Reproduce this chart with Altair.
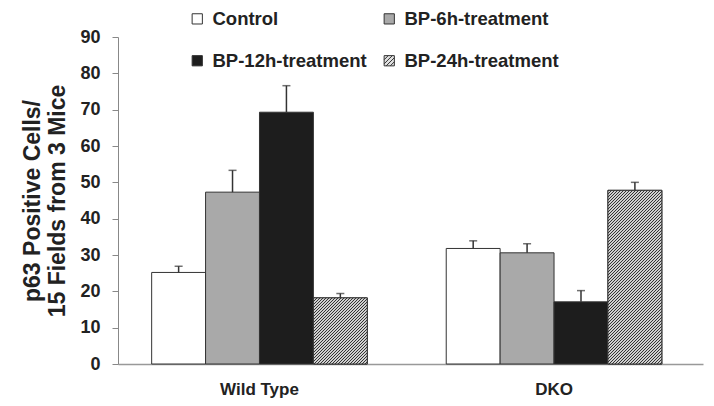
import altair as alt
import pandas as pd

groups = ["Wild Type", "DKO"]
series = ["Control", "BP-6h-treatment", "BP-12h-treatment", "BP-24h-treatment"]
wt_means = [25.2, 47.3, 69.3, 18.2]
wt_errs = [1.7, 6.0, 7.3, 1.2]
dko_means = [31.8, 30.6, 17.1, 47.8]
dko_errs = [2.1, 2.5, 3.1, 2.2]
y_ticks = [0, 10, 20, 30, 40, 50, 60, 70, 80, 90]
y_title = ["p63 Positive Cells/", "15 Fields from 3 Mice"]

rows = []
for g, means, errs in [(groups[0], wt_means, wt_errs), (groups[1], dko_means, dko_errs)]:
    for s, m, e in zip(series, means, errs):
        rows.append({"group": g, "series": s, "mean": m, "upper": m + e})
df = pd.DataFrame(rows)

W, H = 585, 327
P_IN, P_OUT, ALIGN = 0.268, 0.127, 0.45
FONT = "Liberation Sans"
YMAX = 90

step = W / (len(groups) - P_IN + 2 * P_OUT)
bar_w = step * (1 - P_IN) / len(series)

x_axis = alt.Axis(labelFont=FONT, labelFontSize=17, labelFontWeight="bold",
                  labelColor="#222", ticks=False, labelPadding=17,
                  domainColor="#999", domainWidth=1.5, labelAngle=0)
x_enc = alt.X("group:N", sort=groups, title=None,
              scale=alt.Scale(paddingInner=P_IN, paddingOuter=P_OUT, align=ALIGN),
              axis=x_axis)
xo_enc = alt.XOffset("series:N", sort=series, scale=alt.Scale(paddingInner=0, paddingOuter=0))
y_scale = alt.Scale(domain=[0, YMAX], nice=False)
y_axis = alt.Axis(values=y_ticks, grid=False, labelFont=FONT, labelFontSize=18,
                  labelFontWeight="bold", labelColor="#222", tickSize=6,
                  tickColor="#888", domainColor="#888", labelPadding=12,
                  labelOverlap=False,
                  titleFont=FONT, titleFontSize=23, titleFontWeight="bold",
                  titleColor="#222", titleLineHeight=25, titlePadding=10)
y_enc = alt.Y("mean:Q", scale=y_scale, title=y_title, axis=y_axis)
y_up = alt.Y("upper:Q", scale=y_scale, title=y_title, axis=y_axis)

# legend order (legend fills column by column)
legend_order = [series[0], series[2], series[1], series[3]]
color_map = {series[0]: "#ffffff", series[1]: "#a9a9a9",
             series[2]: "#1d1d1d", series[3]: "#e0e0e0"}
sq = "M-1,-1H1V1H-1Z"
hatch_path = sq + " M-1,-0.2L-0.2,-1 M-1,0.6L0.6,-1 M-0.6,1L1,-0.6 M0.2,1L1,0.2"
shape_map = {series[0]: sq, series[1]: sq, series[2]: sq, series[3]: hatch_path}

legend = alt.Legend(title=None, orient="none", legendX=70, legendY=-27.5, columns=2,
                    columnPadding=13, rowPadding=23, symbolSize=105,
                    symbolOpacity=1, symbolFillColor="white", symbolStrokeWidth=1,
                    labelFont=FONT, labelFontSize=18.5,
                    labelFontWeight="bold", labelColor="#222", labelOffset=6)

color_scale = alt.Scale(domain=legend_order, range=[color_map[s] for s in legend_order])
shape_scale = alt.Scale(domain=legend_order, range=[shape_map[s] for s in legend_order])

base = alt.Chart(df)

bars = base.mark_bar(stroke="#333", strokeWidth=1).encode(
    x=x_enc, xOffset=xo_enc, y=y_enc,
    color=alt.Color("series:N", scale=color_scale, legend=legend))


def hatch_gradient(value):
    h = value / YMAX * H
    w = bar_w
    k = (w + h) / (w * w + h * h)
    x2, y2 = k * w, k * h
    pt = 3.0 / (w + h)  # 3px horizontal period for 45-degree stripes
    stops = []
    i = 0
    while i * pt < 1:
        a = i * pt
        b = min(1.0, (i + 0.5) * pt)
        c = min(1.0, (i + 1) * pt)
        stops += [alt.GradientStop(offset=a, color="#333333"),
                  alt.GradientStop(offset=b, color="#333333"),
                  alt.GradientStop(offset=b, color="#d0d0d0"),
                  alt.GradientStop(offset=c, color="#d0d0d0")]
        i += 1
    return alt.LinearGradient(gradient="linear", stops=stops, x1=0, y1=0, x2=x2, y2=y2)


hatch_layers = []
for g in groups:
    v = float(df[(df.group == g) & (df.series == series[3])]["mean"].iloc[0])
    hatch_layers.append(
        base.transform_filter(
            (alt.datum.group == g) & (alt.datum.series == series[3])
        ).mark_bar(fill=hatch_gradient(v), stroke="#333", strokeWidth=1).encode(
            x=x_enc, xOffset=xo_enc, y=y_enc)
    )

err = base.mark_rule(color="#333", strokeWidth=1.5).encode(
    x=x_enc, xOffset=xo_enc, y=y_enc, y2="upper:Q")
cap = base.mark_tick(color="#333", thickness=1.5, size=8).encode(
    x=x_enc, xOffset=xo_enc, y=y_up)
ghost = base.mark_point(filled=True, size=0, stroke="#111", strokeWidth=1).encode(
    x=x_enc, xOffset=xo_enc, y=y_enc,
    color=alt.Color("series:N", scale=color_scale, legend=legend),
    shape=alt.Shape("series:N", scale=shape_scale, legend=legend))

chart = alt.layer(bars, *hatch_layers, err, cap, ghost).properties(
    width=W, height=H,
    autosize=alt.AutoSizeParams(type="none"),
    padding={"left": 110, "top": 29, "right": 3, "bottom": 34},
).configure(background="white").configure_view(stroke=None)

chart.save("out.html", embed_options={"renderer": "svg", "actions": False})
